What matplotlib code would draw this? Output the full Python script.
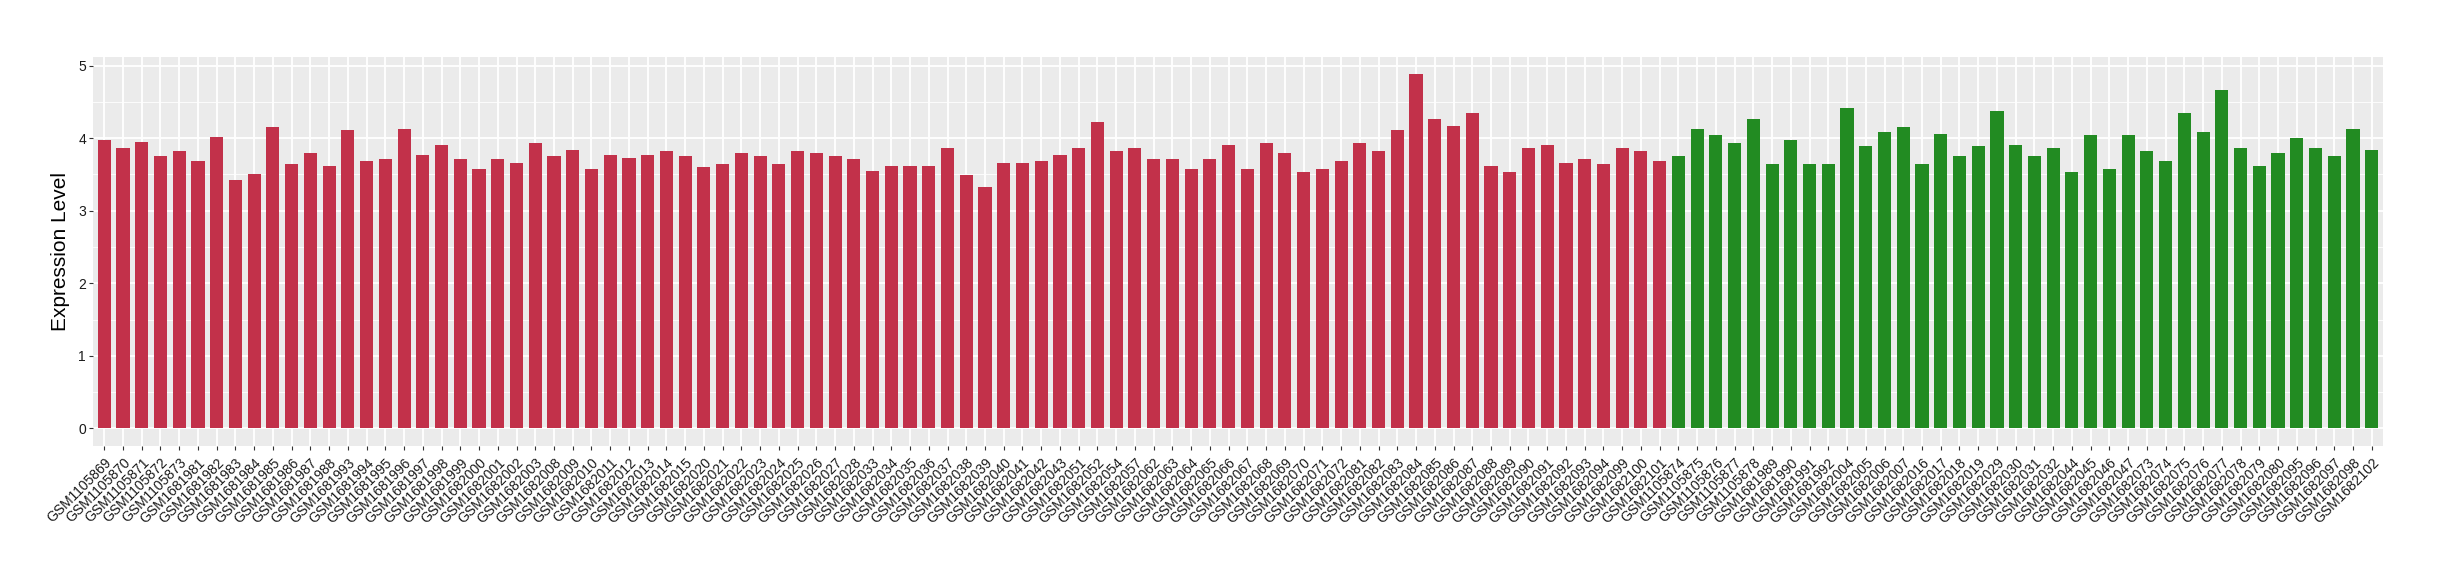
import matplotlib
matplotlib.use('Agg')
import matplotlib.pyplot as plt
from matplotlib.ticker import MultipleLocator

# sample ids, first group (red) then second group (green)
red_samples = ['GSM1105869', 'GSM1105870', 'GSM1105871', 'GSM1105872', 'GSM1105873',
               'GSM1681981', 'GSM1681982', 'GSM1681983', 'GSM1681984', 'GSM1681985',
               'GSM1681986', 'GSM1681987', 'GSM1681988', 'GSM1681993', 'GSM1681994',
               'GSM1681995', 'GSM1681996', 'GSM1681997', 'GSM1681998', 'GSM1681999',
               'GSM1682000', 'GSM1682001', 'GSM1682002', 'GSM1682003', 'GSM1682008',
               'GSM1682009', 'GSM1682010', 'GSM1682011', 'GSM1682012', 'GSM1682013',
               'GSM1682014', 'GSM1682015', 'GSM1682020', 'GSM1682021', 'GSM1682022',
               'GSM1682023', 'GSM1682024', 'GSM1682025', 'GSM1682026', 'GSM1682027',
               'GSM1682028', 'GSM1682033', 'GSM1682034', 'GSM1682035', 'GSM1682036',
               'GSM1682037', 'GSM1682038', 'GSM1682039', 'GSM1682040', 'GSM1682041',
               'GSM1682042', 'GSM1682043', 'GSM1682051', 'GSM1682052', 'GSM1682054',
               'GSM1682057', 'GSM1682062', 'GSM1682063', 'GSM1682064', 'GSM1682065',
               'GSM1682066', 'GSM1682067', 'GSM1682068', 'GSM1682069', 'GSM1682070',
               'GSM1682071', 'GSM1682072', 'GSM1682081', 'GSM1682082', 'GSM1682083',
               'GSM1682084', 'GSM1682085', 'GSM1682086', 'GSM1682087', 'GSM1682088',
               'GSM1682089', 'GSM1682090', 'GSM1682091', 'GSM1682092', 'GSM1682093',
               'GSM1682094', 'GSM1682099', 'GSM1682100', 'GSM1682101']
red_values = [3.97, 3.87, 3.95, 3.76, 3.83, 3.68, 4.01, 3.43, 3.50, 4.16,
              3.64, 3.80, 3.61, 4.11, 3.69, 3.72, 4.13, 3.77, 3.90, 3.72,
              3.58, 3.72, 3.66, 3.93, 3.76, 3.84, 3.57, 3.77, 3.73, 3.77,
              3.83, 3.76, 3.60, 3.64, 3.79, 3.75, 3.64, 3.83, 3.79, 3.75,
              3.71, 3.55, 3.61, 3.62, 3.62, 3.86, 3.49, 3.33, 3.66, 3.66,
              3.69, 3.77, 3.87, 4.22, 3.83, 3.86, 3.72, 3.72, 3.58, 3.71,
              3.91, 3.57, 3.94, 3.80, 3.53, 3.57, 3.69, 3.94, 3.82, 4.12,
              4.88, 4.26, 4.17, 4.35, 3.62, 3.53, 3.86, 3.90, 3.66, 3.72,
              3.64, 3.87, 3.83, 3.69]

green_samples = ['GSM1105874', 'GSM1105875', 'GSM1105876', 'GSM1105877', 'GSM1105878',
                 'GSM1681989', 'GSM1681990', 'GSM1681991', 'GSM1681992', 'GSM1682004',
                 'GSM1682005', 'GSM1682006', 'GSM1682007', 'GSM1682016', 'GSM1682017',
                 'GSM1682018', 'GSM1682019', 'GSM1682029', 'GSM1682030', 'GSM1682031',
                 'GSM1682032', 'GSM1682044', 'GSM1682045', 'GSM1682046', 'GSM1682047',
                 'GSM1682073', 'GSM1682074', 'GSM1682075', 'GSM1682076', 'GSM1682077',
                 'GSM1682078', 'GSM1682079', 'GSM1682080', 'GSM1682095', 'GSM1682096',
                 'GSM1682097', 'GSM1682098', 'GSM1682102']
green_values = [3.75, 4.13, 4.05, 3.93, 4.26, 3.64, 3.97, 3.64, 3.64, 4.41,
                3.89, 4.09, 4.16, 3.65, 4.06, 3.75, 3.89, 4.38, 3.91, 3.75,
                3.86, 3.54, 4.04, 3.57, 4.05, 3.83, 3.69, 4.35, 4.08, 4.67,
                3.86, 3.61, 3.80, 4.00, 3.86, 3.75, 4.13, 3.84]

red_col = '#C2314A'
green_col = '#228B22'

plt.rcParams['font.family'] = ['Liberation Sans', 'DejaVu Sans']

samples = red_samples + green_samples
values = red_values + green_values
colors = [red_col] * len(red_samples) + [green_col] * len(green_samples)
xpos = list(range(1, len(samples) + 1))

fig = plt.figure(figsize=(24.4, 5.8), dpi=100)
ax = fig.add_axes([93 / 2440, 1 - 446 / 580, (2383 - 93) / 2440, (446 - 56.7) / 580])

ax.set_facecolor('#EBEBEB')
ax.set_axisbelow(True)
ax.bar(xpos, values, width=0.7, color=colors, zorder=3)

ax.set_xlim(0.4, len(samples) + 0.6)
ymax = max(values)
ax.set_ylim(-0.05 * ymax, ymax * 1.05)
ax.yaxis.set_major_locator(MultipleLocator(1))
ax.yaxis.set_minor_locator(MultipleLocator(0.5))
ax.grid(which='major', color='white', linewidth=1.3, zorder=0)
ax.grid(which='minor', axis='y', color='white', linewidth=0.6, zorder=0)

ax.set_xticks(xpos)
ax.set_xticklabels(samples, rotation=45, ha='right', va='top',
                   rotation_mode='anchor', fontsize=10, color='#1A1A1A')
ax.tick_params(axis='y', which='major', labelsize=10, labelcolor='#1A1A1A',
               color='#333333', length=3, width=0.8, pad=2)
ax.tick_params(axis='x', which='major', color='#333333', length=3, width=0.8, pad=4)
ax.tick_params(axis='y', which='minor', length=0)

for s in ax.spines.values():
    s.set_visible(False)

ax.set_ylabel('Expression Level', fontsize=15, labelpad=6)

fig.savefig('out.png', dpi=100)
